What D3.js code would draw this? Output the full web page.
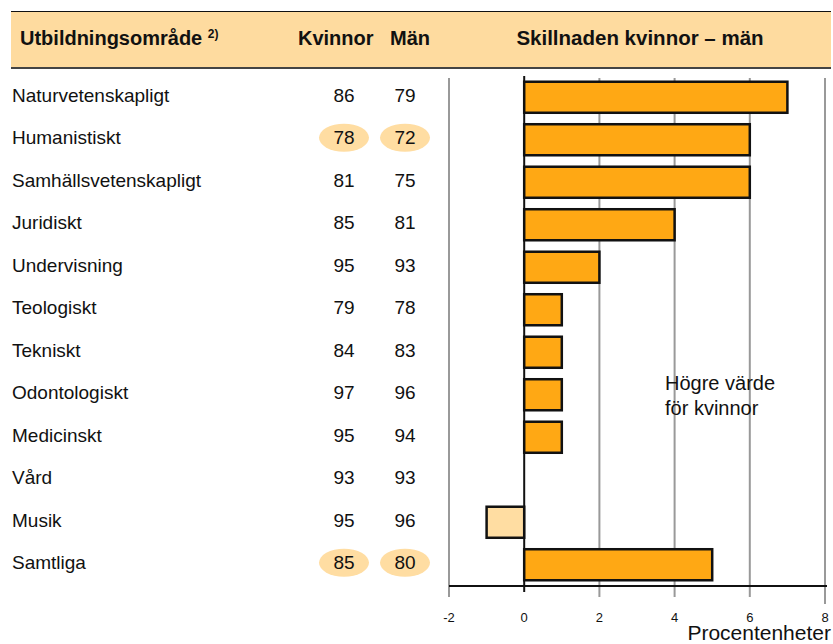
<!DOCTYPE html>
<html>
<head>
<meta charset="utf-8">
<script src="https://cdn.jsdelivr.net/npm/d3@7"></script>
<style>
  body { margin: 0; background: #fff; }
  svg { display: block; font-family: "Liberation Sans", Arial, sans-serif; }
</style>
</head>
<body>
<div id="chart"></div>
<script>
// data
var omraden = ["Naturvetenskapligt", "Humanistiskt", "Samhällsvetenskapligt", "Juridiskt",
  "Undervisning", "Teologiskt", "Tekniskt", "Odontologiskt", "Medicinskt", "Vård", "Musik", "Samtliga"];
var kvinnor = [86, 78, 81, 85, 95, 79, 84, 97, 95, 93, 95, 85];
var man = [79, 72, 75, 81, 93, 78, 83, 96, 94, 93, 96, 80];
var skillnad = [7, 6, 6, 4, 2, 1, 1, 1, 1, 0, -1, 5];
var markerade = ["Humanistiskt", "Samtliga"];
var xTicks = [-2, 0, 2, 4, 6, 8];

var width = 833, height = 644;

var svg = d3.select("#chart")
  .append("svg")
  .attr("width", width)
  .attr("height", height);

// header band
svg.append("rect")
  .attr("x", 11).attr("y", 11)
  .attr("width", 820).attr("height", 57)
  .style("fill", "#fedb9f");
svg.append("line")
  .attr("x1", 11).attr("x2", 831).attr("y1", 11.5).attr("y2", 11.5)
  .attr("stroke", "#111").attr("stroke-width", 1.2);
svg.append("line")
  .attr("x1", 11).attr("x2", 831).attr("y1", 68).attr("y2", 68)
  .attr("stroke", "#444").attr("stroke-width", 2);

var head = svg.append("g").style("font-weight", "bold").style("font-size", "20px").attr("fill", "#111");
var h1 = head.append("text").attr("x", 20).attr("y", 45);
h1.append("tspan").text("Utbildningsområde ");
h1.append("tspan").text("2)").style("font-size", "12px").attr("dy", -7);
head.append("text").attr("x", 298).attr("y", 45).text("Kvinnor");
head.append("text").attr("x", 390).attr("y", 45).text("Män");
head.append("text").attr("x", 640).attr("y", 45).attr("text-anchor", "middle").style("font-size", "20.5px").text("Skillnaden kvinnor – män");

// scales
var y = d3.scaleBand()
  .domain(omraden)
  .range([76, 586]);

var x = d3.scaleLinear()
  .domain([-2, 8])
  .range([449, 825]);

// gridlines
svg.append("g")
  .selectAll("line")
  .data(xTicks)
  .enter()
  .append("line")
  .attr("x1", function(d){ return x(d); })
  .attr("x2", function(d){ return x(d); })
  .attr("y1", function(d){ return d == 0 ? 76 : 78; })
  .attr("y2", function(d){ return d == 8 ? 604 : (d == 0 ? 592 : 597); })
  .attr("stroke", function(d){ return d == 0 ? "#111" : "#999"; })
  .attr("stroke-width", 2);

// axis line
svg.append("line")
  .attr("x1", x(-2)).attr("x2", x(8) + 2)
  .attr("y1", 586).attr("y2", 586)
  .attr("stroke", "#111").attr("stroke-width", 2);

// tick labels
svg.append("g")
  .selectAll("text")
  .data(xTicks)
  .enter()
  .append("text")
  .attr("x", function(d){ return x(d); })
  .attr("y", 622)
  .attr("text-anchor", "middle")
  .style("font-size", "13px")
  .attr("fill", "#111")
  .text(function(d){ return d; });

svg.append("text")
  .attr("x", 831).attr("y", 640)
  .attr("text-anchor", "end")
  .style("font-size", "21px")
  .attr("fill", "#111")
  .text("Procentenheter");

// rows
var rows = omraden.map(function(o, i) {
  return { omrade: o, k: kvinnor[i], m: man[i], diff: skillnad[i] };
});

var barH = y.bandwidth() * 0.73;

svg.append("g")
  .selectAll("rect")
  .data(rows.filter(function(d){ return d.diff != 0; }))
  .enter()
  .append("rect")
  .attr("x", function(d){ return x(Math.min(0, d.diff)); })
  .attr("y", function(d){ return y(d.omrade) + (y.bandwidth() - barH) / 2; })
  .attr("width", function(d){ return Math.abs(x(d.diff) - x(0)); })
  .attr("height", barH)
  .attr("stroke", "#111")
  .attr("stroke-width", 2.5)
  .style("fill", function(d){ return d.diff < 0 ? "#ffdda2" : "#ffa814"; });

// highlight ellipses
var hl = rows.filter(function(d){ return markerade.indexOf(d.omrade) >= 0; });
var ell = svg.append("g");
[344, 405].forEach(function(cx) {
  ell.selectAll(null)
    .data(hl)
    .enter()
    .append("ellipse")
    .attr("cx", cx)
    .attr("cy", function(d){ return y(d.omrade) + y.bandwidth() / 2 - 2; })
    .attr("rx", 25)
    .attr("ry", 14)
    .style("fill", "#ffdda2");
});

var txt = svg.append("g").style("font-size", "19px").attr("fill", "#111");
function rowY(d) { return y(d.omrade) + y.bandwidth() / 2 + 4.5; }
txt.selectAll(".lab")
  .data(rows)
  .enter()
  .append("text")
  .attr("x", 12)
  .attr("y", rowY)
  .text(function(d){ return d.omrade; });
txt.selectAll(".kv")
  .data(rows)
  .enter()
  .append("text")
  .attr("x", 344)
  .attr("text-anchor", "middle")
  .attr("y", rowY)
  .text(function(d){ return d.k; });
txt.selectAll(".mn")
  .data(rows)
  .enter()
  .append("text")
  .attr("x", 405)
  .attr("text-anchor", "middle")
  .attr("y", rowY)
  .text(function(d){ return d.m; });

// annotation
var note = svg.append("text").attr("x", 665).attr("y", 390).style("font-size", "20px").attr("fill", "#111");
note.append("tspan").text("Högre värde");
note.append("tspan").attr("x", 665).attr("dy", 25).text("för kvinnor");
</script>
</body>
</html>
